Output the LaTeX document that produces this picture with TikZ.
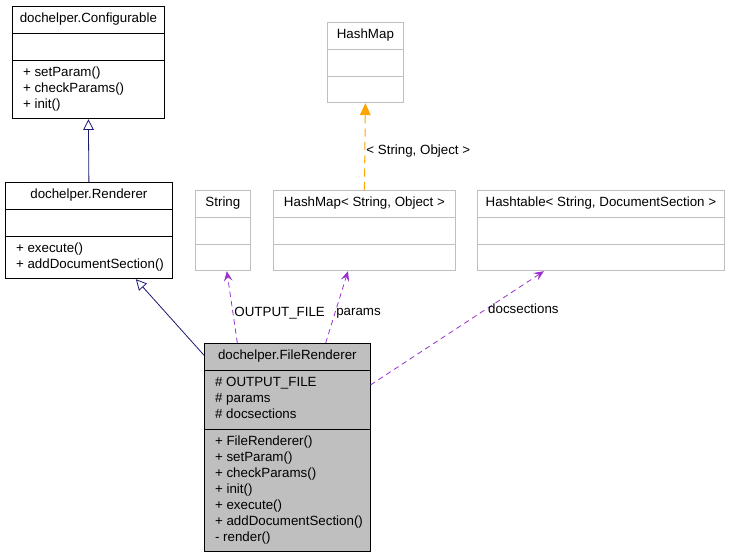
\documentclass[tikz,border=0pt]{standalone}
\usepackage{fontspec}
\setmainfont{Liberation Sans}
\usetikzlibrary{shapes.multipart,arrows.meta,calc}

\definecolor{inheritblue}{HTML}{191970}
\definecolor{usepurple}{HTML}{9A32CD}
\definecolor{tmplorange}{HTML}{FFA500}
\definecolor{boxgray}{HTML}{BFBFBF}

\newcommand{\memberlist}[1]{\begin{tabular}{@{\hspace{2.5pt}}l@{}}#1\end{tabular}}

\begin{document}
\begin{tikzpicture}[x=0.75pt,y=-0.75pt,font=\fontsize{10}{12}\selectfont]
		\tikzstyle {class} = [rectangle split, rectangle split parts=3,
			rectangle split part align={center,left,left}, draw, line width=0.6pt,
			anchor=north west, inner xsep=5.5pt, inner ysep=3.75pt,
			rectangle split empty part height=8.4pt, rectangle split empty part depth=3.6pt]
		\tikzstyle {extclass} = [class, draw=boxgray]
		\tikzstyle {inherit} = [inheritblue, line width=0.6pt, -{Triangle[open, length=8pt, width=8pt]}]
		\tikzstyle {usage} = [usepurple, line width=0.6pt, dash pattern=on 4pt off 3pt,
			-{Stealth[length=7.5pt, width=6.5pt, inset=3pt]}]
		\tikzstyle {tmpl} = [tmplorange, line width=0.75pt, dash pattern=on 6pt off 4pt,
			-{Triangle[length=9pt, width=8pt]}]
		\tikzstyle {edge label} = [anchor=west, inner sep=0.8pt, text=black]

		\useasboundingbox (0,0) rectangle (731,555);

		% documented classes
		\node[class, minimum width=114pt] (configurable) at (12,6)
			{\strut dochelper.Configurable \nodepart{two} \nodepart{three}
			\memberlist{+ setParam()\\+ checkParams()\\+ init()}};
		\node[class, minimum width=125.25pt] (renderer) at (5,182)
			{\strut dochelper.Renderer \nodepart{two} \nodepart{three}
			\memberlist{+ execute()\\+ addDocumentSection()}};
		\node[class, fill=boxgray, minimum width=123.75pt] (filerenderer) at (204,343)
			{\strut dochelper.FileRenderer
			\nodepart{two} \memberlist{\# OUTPUT\_FILE\\\# params\\\# docsections}
			\nodepart{three} \memberlist{+ FileRenderer()\\+ setParam()\\+ checkParams()\\+ init()\\+ execute()\\+ addDocumentSection()\\- render()}};

		% external classes
		\node[extclass, minimum width=41.25pt] (string) at (195,190)
			{\strut String \nodepart{two} \nodepart{three}};
		\node[extclass, minimum width=136.5pt] (hashmapso) at (273,190)
			{\strut HashMap< String, Object > \nodepart{two} \nodepart{three}};
		\node[extclass, minimum width=185.25pt] (hashtable) at (477,190)
			{\strut Hashtable< String, DocumentSection > \nodepart{two} \nodepart{three}};
		\node[extclass, minimum width=57pt] (hashmap) at (327,22)
			{\strut HashMap \nodepart{two} \nodepart{three}};

		% inheritance
		\draw[inherit] (renderer.north) -- (configurable.south);
		\draw[inherit] ($(filerenderer.north west)!0.45!(filerenderer.text split west)$)
			-- ($(renderer.south west)!0.78!(renderer.south east)$);

		% usage
		\draw[usage] ($(filerenderer.north west)!0.2!(filerenderer.north east)$)
			-- node[edge label, pos=0.41] {OUTPUT\_FILE}
			($(string.south west)!0.57!(string.south east)$);
		\draw[usage] ($(filerenderer.north west)!0.73!(filerenderer.north east)$)
			-- node[edge label, pos=0.41] {params}
			($(hashmapso.south west)!0.41!(hashmapso.south east)$);
		\draw[usage] ($(filerenderer.north east)!0.2!(filerenderer.south east)$)
			-- node[edge label, pos=0.67] {docsections}
			($(hashtable.south west)!0.27!(hashtable.south east)$);

		% template instance
		\draw[tmpl] (hashmapso.north) -- node[edge label, pos=0.45] {< String, Object >} (hashmap.south);
\end{tikzpicture}
\end{document}
